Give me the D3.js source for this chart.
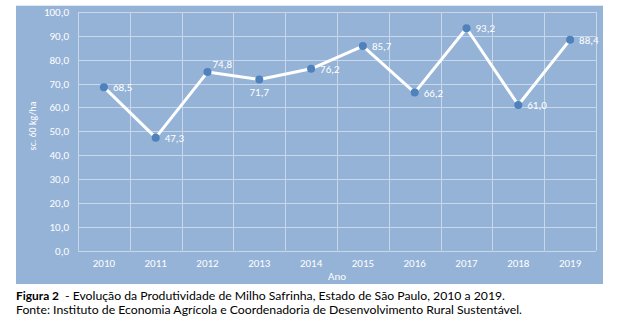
<!DOCTYPE html>
<html><head><meta charset="utf-8">
<script src="https://cdn.jsdelivr.net/npm/d3@7"></script>
<style>body{margin:0;background:#fff}svg{display:block}</style>
</head><body>
<svg id="c" width="626" height="330"></svg>
<script>
const years = ["2010","2011","2012","2013","2014","2015","2016","2017","2018","2019"];
const values = [68.5,47.3,74.8,71.7,76.2,85.7,66.2,93.2,61.0,88.4];
const yTicks = [0,10,20,30,40,50,60,70,80,90,100];
const labelPos = ["right","right","aboveRight","below","right","right","right","right","right","right"];
const yTitle = "sc. 60 kg/ha";
const xTitle = "Ano";
const captionBold = "Figura 2";
const captionRest = "- Evolução da Produtividade de Milho Safrinha, Estado de São Paulo, 2010 a 2019.";
const source = "Fonte: Instituto de Economia Agrícola e Coordenadoria de Desenvolvimento Rural Sustentável.";

const svg = d3.select("#c");
const font = "Calibri, Carlito, 'Open Sans', sans-serif";
const bg = "#95b3d7", grid = "#c8d7ea", marker = "#4f81bd";

svg.append("rect").attr("x",16).attr("y",5).attr("width",587).attr("height",279).attr("fill",bg);
svg.append("line").attr("x1",16).attr("x2",603).attr("y1",5.5).attr("y2",5.5).attr("stroke","#dfe7f2").attr("stroke-width",1);

const m = {l:78, r:596, t:12, b:250.5};
const x = d3.scaleBand().domain(years).range([m.l,m.r]);
const y = d3.scaleLinear().domain([0,100]).range([m.b,m.t]);

svg.append("g").selectAll("line").data(yTicks).join("line")
  .attr("x1",m.l).attr("x2",m.r).attr("y1",d=>Math.round(y(d))+0.5).attr("y2",d=>Math.round(y(d))+0.5)
  .attr("stroke",grid).attr("stroke-width",1);
const bounds = years.map(d=>x(d)).concat([m.r]);
svg.append("g").selectAll("line").data(bounds).join("line")
  .attr("x1",d=>Math.round(d)+0.5).attr("x2",d=>Math.round(d)+0.5).attr("y1",m.t).attr("y2",m.b)
  .attr("stroke",grid).attr("stroke-width",1);

const yAxis = d3.axisLeft(y).tickValues(yTicks).tickSize(0).tickPadding(9).tickFormat(d=>d.toFixed(1).replace(".",","));
const ya = svg.append("g").attr("transform",`translate(${m.l},0)`).call(yAxis);
ya.select(".domain").remove();
ya.selectAll("text").attr("fill","#fff").style("font-family",font).style("font-size","11px");

const xAxis = d3.axisBottom(x).tickSize(0).tickPadding(9);
const xa = svg.append("g").attr("transform",`translate(0,${m.b})`).call(xAxis);
xa.select(".domain").remove();
xa.selectAll("text").attr("fill","#fff").style("font-family",font).style("font-size","11px");

svg.append("text").attr("x",(m.l+m.r)/2).attr("y",280).attr("text-anchor","middle")
  .attr("fill","#fff").style("font-family",font).style("font-size","11px").text(xTitle);
svg.append("text").attr("transform",`translate(36,126) rotate(-90)`).attr("text-anchor","middle")
  .attr("fill","#fff").style("font-family",font).style("font-size","10px").text(yTitle);

const cx = d=>x(d)+x.bandwidth()/2;
const line = d3.line().x((d,i)=>cx(years[i])).y(d=>y(d));
svg.append("path").datum(values).attr("d",line).attr("fill","none").attr("stroke","#fff").attr("stroke-width",3).attr("stroke-linejoin","round");
svg.append("g").selectAll("circle").data(values).join("circle")
  .attr("cx",(d,i)=>cx(years[i])).attr("cy",d=>y(d)).attr("r",4).attr("fill",marker);

svg.append("g").selectAll("text").data(values).join("text")
  .attr("x",(d,i)=>{const p=labelPos[i]; return cx(years[i]) + (p==="below"?0:(p==="aboveRight"?5:9));})
  .attr("y",(d,i)=>{const p=labelPos[i]; return y(d) + (p==="below"?17:(p==="aboveRight"?-4:4));})
  .attr("text-anchor",(d,i)=>labelPos[i]==="below"?"middle":"start")
  .attr("fill","#fff").style("font-family",font).style("font-size","11px")
  .text(d=>d.toFixed(1).replace(".",","));

const capFont = "Lato, 'Open Sans', sans-serif";
svg.append("text").attr("x",16).attr("y",300).style("font-family",capFont).style("font-size","12px").attr("font-weight","bold").attr("fill","#000")
  .attr("textLength",43).attr("lengthAdjust","spacingAndGlyphs").text(captionBold);
svg.append("text").attr("x",65).attr("y",300).style("font-family",capFont).style("font-size","12px").attr("fill","#000")
  .attr("textLength",440).attr("lengthAdjust","spacingAndGlyphs").text(captionRest);
svg.append("text").attr("x",16).attr("y",314).style("font-family",capFont).style("font-size","12px").attr("fill","#000")
  .attr("textLength",506).attr("lengthAdjust","spacingAndGlyphs").text(source);
</script>
</body></html>
